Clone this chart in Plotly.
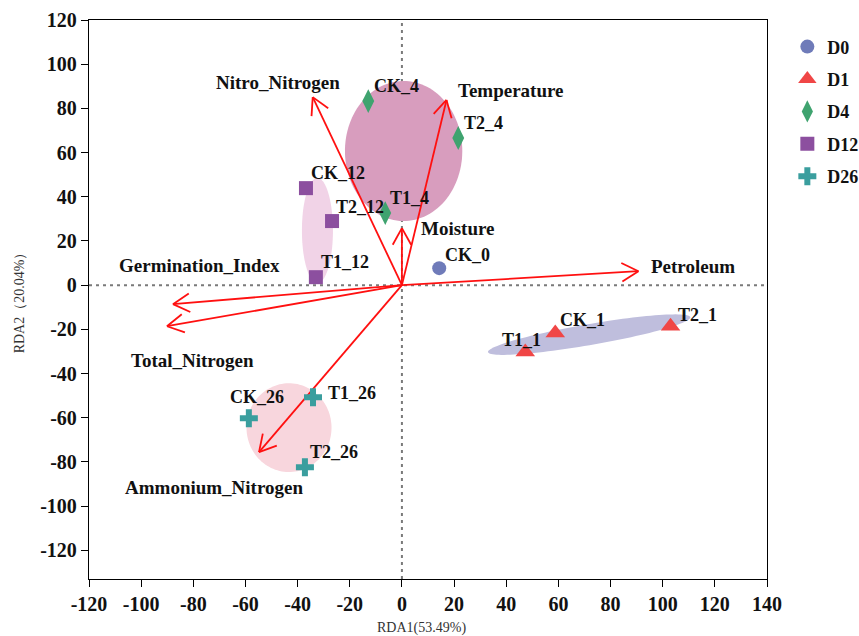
import numpy as np
import plotly.graph_objects as go

# ---------------- data ----------------
groups = ["D0", "D1", "D4", "D12", "D26"]
group_samples = {
    "D0": ["CK_0"],
    "D1": ["CK_1", "T1_1", "T2_1"],
    "D4": ["CK_4", "T1_4", "T2_4"],
    "D12": ["CK_12", "T1_12", "T2_12"],
    "D26": ["CK_26", "T1_26", "T2_26"],
}
sample_rda1 = {
    "CK_0": 14.3,
    "CK_1": 58.8, "T1_1": 47.3, "T2_1": 103.0,
    "CK_4": -12.9, "T1_4": -6.4, "T2_4": 21.6,
    "CK_12": -36.8, "T1_12": -33.0, "T2_12": -26.8,
    "CK_26": -58.7, "T1_26": -34.1, "T2_26": -37.2,
}
sample_rda2 = {
    "CK_0": 7.7,
    "CK_1": -21.7, "T1_1": -30.3, "T2_1": -18.6,
    "CK_4": 83.3, "T1_4": 32.6, "T2_4": 66.6,
    "CK_12": 43.9, "T1_12": 3.6, "T2_12": 29.0,
    "CK_26": -60.2, "T1_26": -50.7, "T2_26": -82.4,
}

env_vars = ["Nitro_Nitrogen", "Temperature", "Moisture", "Petroleum",
            "Germination_Index", "Total_Nitrogen", "Ammonium_Nitrogen"]
env_rda1 = [-34.2, 17.1, 0.0, 90.7, -87.8, -90.1, -54.8]
env_rda2 = [85.1, 83.8, 25.8, 6.3, -8.6, -18.6, -75.6]

x_ticks = list(range(-120, 141, 20))
y_ticks = list(range(-120, 121, 20))

# ---------------- styles ----------------
X_RANGE = [-120, 140]
Y_RANGE = [-133, 120]
W, H = 859, 636
M_L, M_R, M_T, M_B = 89, 92, 20, 57
PX_X = (W - M_L - M_R) / (X_RANGE[1] - X_RANGE[0])
PX_Y = (H - M_T - M_B) / (Y_RANGE[1] - Y_RANGE[0])

FONT = "Liberation Serif, Times New Roman, serif"
group_style = {
    "D0": dict(symbol="circle", size=14, color="#6f7bb9"),
    "D1": dict(symbol="triangle-up", size=17, color="#f04646"),
    "D4": dict(symbol="diamond-tall", size=17, color="#3fa36f"),
    "D12": dict(symbol="square", size=14, color="#8c4f9f"),
    "D26": dict(symbol="cross", size=15, color="#3a9e9e"),
}
# ellipse: center, semi-axis vector a, semi-axis vector b (data units)
ellipse_style = {
    "D4": dict(c=(0.65, 60.7), a=(22.5, 0.0), b=(0.0, 31.7), fill="#d89dbe"),
    "D12": dict(c=(-32.4, 24.7), a=(5.95, 0.0), b=(0.0, 23.8), fill="#f1d3e7"),
    "D1": dict(c=(71.8, -22.4), a=(38.8, 7.9), b=(0.69, -4.67), fill="#bfbedd"),
    "D26": dict(c=(-43.3, -64.5), a=(16.3, 0.0), b=(0.0, 20.1), fill="#f8d6dd"),
}
# label offsets in pixels: (xshift of left edge, yshift of centre)
sample_label_shift = {
    "CK_0": (4, 13), "CK_1": (3, 13), "T1_1": (-25, 12), "T2_1": (5, 11),
    "CK_4": (4, 15), "T2_4": (4, 15), "T1_4": (3, 15),
    "CK_12": (3, 15), "T2_12": (2, 14), "T1_12": (3, 15),
    "CK_26": (-21, 21), "T1_26": (13, 4), "T2_26": (3, 15),
}
env_label_shift = {
    "Nitro_Nitrogen": ("center", -35, 15),
    "Temperature": ("left", 9, 9),
    "Moisture": ("left", 17, 0),
    "Petroleum": ("left", 11, 5),
    "Germination_Index": ("left", -56, 39),
    "Total_Nitrogen": ("left", -38, -34),
    "Ammonium_Nitrogen": ("left", -136, -35),
}

fig = go.Figure()

# ellipses
shapes = []
t = np.linspace(0, 2 * np.pi, 120)
for g in ["D4", "D12", "D1", "D26"]:
    e = ellipse_style[g]
    ex = e["c"][0] + np.cos(t) * e["a"][0] + np.sin(t) * e["b"][0]
    ey = e["c"][1] + np.cos(t) * e["a"][1] + np.sin(t) * e["b"][1]
    path = "M " + " L ".join(f"{a:.3f},{b:.3f}" for a, b in zip(ex, ey)) + " Z"
    shapes.append(dict(type="path", path=path, xref="x", yref="y",
                       fillcolor=e["fill"], line=dict(width=0), layer="below"))

# zero dashed lines
shapes.append(dict(type="line", xref="x", yref="paper", x0=0, x1=0, y0=0, y1=1,
                   line=dict(color="#7a7a7a", width=2, dash="3px,4px"), layer="below"))
shapes.append(dict(type="line", xref="paper", yref="y", x0=0, x1=1, y0=0, y1=0,
                   line=dict(color="#7a7a7a", width=2, dash="3px,4px"), layer="below"))

# environmental arrows (line + open V head computed in pixel space)
ax_, ay_ = [], []
HEAD_LEN, HEAD_ANG = 19, np.deg2rad(29)
for vx, vy in zip(env_rda1, env_rda2):
    ax_ += [0, vx, None]
    ay_ += [0, vy, None]
    dx, dy = vx * PX_X, vy * PX_Y
    n = np.hypot(dx, dy)
    ux, uy = -dx / n, -dy / n
    for s in (1, -1):
        ca, sa = np.cos(s * HEAD_ANG), np.sin(s * HEAD_ANG)
        wx = (ux * ca - uy * sa) * HEAD_LEN
        wy = (ux * sa + uy * ca) * HEAD_LEN
        ax_ += [vx, vx + wx / PX_X, None]
        ay_ += [vy, vy + wy / PX_Y, None]
fig.add_trace(go.Scatter(x=ax_, y=ay_, mode="lines",
                         line=dict(color="#ff1010", width=1.8),
                         showlegend=False, hoverinfo="skip"))

# sample points
for g in groups:
    st = group_style[g]
    names = group_samples[g]
    fig.add_trace(go.Scatter(
        x=[sample_rda1[n] for n in names], y=[sample_rda2[n] for n in names],
        mode="markers", name=f"<b>{g}</b>", legendgroup=g, text=names,
        marker=dict(symbol=st["symbol"], size=st["size"], color=st["color"],
                    line=dict(width=0)),
    ))

annotations = []
for g in groups:
    for n in group_samples[g]:
        xs, ys = sample_label_shift[n]
        annotations.append(dict(x=sample_rda1[n], y=sample_rda2[n], text=f"<b>{n}</b>",
                                showarrow=False, xanchor="left", yanchor="middle",
                                xshift=xs, yshift=ys,
                                font=dict(family=FONT, size=18, color="#111111")))
for v, vx, vy in zip(env_vars, env_rda1, env_rda2):
    anc, xs, ys = env_label_shift[v]
    annotations.append(dict(x=vx, y=vy, text=f"<b>{v}</b>", showarrow=False,
                            xanchor=anc, yanchor="middle", xshift=xs, yshift=ys,
                            font=dict(family=FONT, size=19, color="#111111")))
# axis titles
annotations.append(dict(x=421, y=636 - 628, xref="paper", yref="paper", text="RDA1(53.49%)",
                        showarrow=False, xanchor="center", yanchor="middle",
                        font=dict(family=FONT, size=14, color="#333333")))

axis_common = dict(showgrid=False, zeroline=False, showline=True, linecolor="black",
                   linewidth=1.3, mirror=True, ticks="outside", ticklen=7,
                   tickwidth=1.3, tickcolor="black", automargin=False,
                   tickfont=dict(family=FONT, size=20, color="#111111"))

# convert pixel-placed axis title to paper coordinates
PW, PH = W - M_L - M_R, H - M_T - M_B
annotations[-1]["x"] = (421 - M_L) / PW
annotations[-1]["y"] = (H - M_B - 628) / PH

fig.update_layout(
    width=W, height=H,
    margin=dict(l=M_L, r=M_R, t=M_T, b=M_B, autoexpand=False),
    plot_bgcolor="white", paper_bgcolor="white",
    shapes=shapes, annotations=annotations,
    xaxis=dict(range=X_RANGE, tickvals=x_ticks,
               ticktext=[f"<b>{v}</b>" for v in x_ticks],
               **axis_common),
    yaxis=dict(range=Y_RANGE, tickvals=y_ticks,
               ticktext=[f"<b>{v}</b>" for v in y_ticks],
               title=dict(text="RDA2（20.04%）", standoff=12,
                          font=dict(family=FONT, size=14, color="#333333")),
               **axis_common),
    legend=dict(x=1.03, y=0.985, xanchor="left", yanchor="top",
                font=dict(family=FONT, size=18, color="#111111"),
                tracegroupgap=6, itemsizing="trace", bgcolor="rgba(0,0,0,0)"),
    showlegend=True,
)

fig.write_html("out.html")
